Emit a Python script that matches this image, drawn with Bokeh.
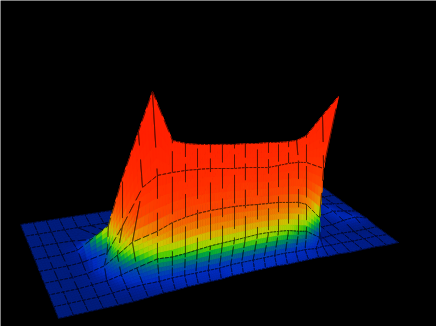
import numpy as np
from bokeh.embed import file_html
from bokeh.models import ColumnDataSource, Range1d
from bokeh.plotting import figure
from bokeh.resources import INLINE

# camera: ground corners of the sheet (front-left, front-right, back-right, back-left)
FL = (58, 318); FR = (398, 242); BR = (312, 179); BL = (20, 224)
N_ROWS = 8
# position of each mesh column along the front edge, 0..1
col_pos = [(x - 58) / 340 for x in [58, 73, 88, 103, 118, 133, 148, 163, 175, 187, 198, 210, 221, 232, 243,
                                    254, 265, 276, 287, 298, 308, 318, 328, 338, 350, 362, 374, 386, 398]]

# surface height at every node, front row first
z_r0 = [0, 0, 0, 0, 0, 0, 1, 2, 2, 3, 3, 3, 3, 4, 4, 4, 4, 4, 3, 3, 3, 3, 2, 2, 1, 1, 1, 0, 0]
z_r1 = [0, 0, 0, 0, 1, 2, 3, 3, 4, 4, 4, 4, 4, 5, 5, 5, 5, 5, 5, 4, 4, 3, 3, 2, 2, 1, 1, 1, 0]
z_r2 = [0, 0, 0, 1, 2, 5, 9, 15, 14.5, 15.5, 17, 18.5, 19.2, 19.8, 20.3, 21.2, 20.9, 19.8, 18.5, 15.5, 13.5, 5.3, 2.3, 1, 1, 1, 0, 0, 0]
z_r3 = [0, 0, 0, 1, 6, 14, 24, 32, 38.5, 41.4, 43.2, 43.9, 43.9, 43.8, 42.7, 41.6, 40.5, 39.5, 37.4, 35.4, 31.4, 16.5, 13.6, 1, 1, 1, 3, 4, 1]
z_r4 = [0, 0, 0, 1, 8, 32, 68, 77.3, 78.1, 78, 77.1, 75.9, 74, 72, 71, 69.1, 67.1, 67.2, 67.2, 66.4, 64.5, 56.7, 54.9, 1, 1, 2, 4, 2, 0]
z_r5 = [0, 0, 0, 2, 24, 69.7, 113.3, 150.75, 99.7, 94.8, 92, 89.9, 88.2, 86.3, 85.4, 83.6, 82.8, 81, 80, 79.4, 82.6, 100.9, 118.25, 0, 1, 3, 3, 1, 0]
z_r6 = [0] * 29
z_r7 = [0] * 29
z_r8 = [0] * 29
z_rows = [z_r0, z_r1, z_r2, z_r3, z_r4, z_r5, z_r6, z_r7, z_r8]

# sideways drift of every node (the wall stands upright, so its nodes stray from the sheet's lines)
dx_r0 = [0] * 29
dx_r1 = [0, 0, 0, 0, 0, 0, 1, 2.5, 3.7, 4.2, 4.7, 5.2, 5.7, 6.2, 6.3, 6.8, 6.9, 6.7, 6.5, 6.3, 5.7, 6.9, 3.9, 2, 1, 0, 0, 0, 0]
dx_r2 = [0, 0, 0, 0, 0, 0, 1, 7.2, 10.6, 12, 13.4, 14.9, 16.3, 17.6, 18, 19.4, 19.8, 19.2, 18.6, 18, 16.3, 19.7, 11, 4, 1, 0, 0, 0, 0]
dx_r3 = [0, 0, 0, 0, 3.4, 2.2, 3, 13.8, 17.4, 19.1, 20.7, 22.3, 23.9, 25.5, 26, 27.6, 28.2, 27.8, 27.4, 27, 25.5, 29, 19.5, 5, 1, 0, 0, 0, 0]
dx_r4 = [0, 0, 0, 1, 12, 13.3, 19.4, 20.4, 24.2, 26.1, 27.9, 29.7, 31.5, 33.3, 34, 35.8, 36.6, 36.4, 36.2, 35.9, 34.6, 42.4, 33, 0, 0, 0, 0, 0, 0]
dx_r5 = [0, 0, 0, 2, 19, 19.4, 21.7, 22, 31, 33.1, 35.1, 37.1, 39.1, 41.1, 42, 44, 45, 45, 45, 43, 43.8, 50.7, 57.5, 0, 0, 0, 0, 0, 0]
dx_r6 = [0, 0, 0, 2, 22, 25, 25, 25, 25, 0, 0, 0, 0, 0, 0, 0, 0, 0, 0, 0, 0, 0, 0, 0, 0, 0, 0, 0, 0]
dx_r7 = [0] * 29
dx_r8 = [0] * 29
dx_rows = [dx_r0, dx_r1, dx_r2, dx_r3, dx_r4, dx_r5, dx_r6, dx_r7, dx_r8]

# colour ramp: height -> rgb
ramp_z = [0, 2, 4, 7, 10, 14, 17, 19, 24, 30, 44, 60, 80, 110]
ramp_r = [0, 0, 0, 0, 0, 0, 90, 150, 205, 235, 252, 255, 255, 255]
ramp_g = [28, 32, 45, 65, 100, 170, 210, 215, 200, 140, 72, 50, 40, 32]
ramp_b = [125, 150, 195, 180, 140, 60, 0, 0, 0, 0, 0, 0, 0, 0]

Z = np.array(z_rows, float)
DX = np.array(dx_rows, float)
T = np.array(col_pos)


def project(c, r):
    """Bilinear sheet position plus height/drift at fractional node (c, r)."""
    c0, r0 = min(int(c), len(T) - 2), min(int(r), N_ROWS - 1)
    a, b = c - c0, r - r0
    def lerp(M):
        return ((1 - a) * (1 - b) * M[r0, c0] + a * (1 - b) * M[r0, c0 + 1]
                + (1 - a) * b * M[r0 + 1, c0] + a * b * M[r0 + 1, c0 + 1])
    t = T[c0] * (1 - a) + T[c0 + 1] * a
    v = r / N_ROWS
    gx = (1 - v) * ((1 - t) * FL[0] + t * FR[0]) + v * ((1 - t) * BL[0] + t * BR[0])
    gy = (1 - v) * ((1 - t) * FL[1] + t * FR[1]) + v * ((1 - t) * BL[1] + t * BR[1])
    z = lerp(Z)
    return gx + lerp(DX), gy - z, z


def colour(z):
    return "#%02x%02x%02x" % (int(np.interp(z, ramp_z, ramp_r)), int(np.interp(z, ramp_z, ramp_g)),
                              int(np.interp(z, ramp_z, ramp_b)))


SUB = 5
DASH = 12
xs, ys, fills, fill_alpha, lines, line_alpha, widths = [], [], [], [], [], [], []


def add_run(pts):
    xs.append([p[0] for p in pts]); ys.append([p[1] for p in pts])
    fills.append("#000000"); fill_alpha.append(0.0); lines.append("#000000"); line_alpha.append(0.45); widths.append(0.8)


def add_edge(c0, r0, c1, r1):
    """Mesh line drawn broken, as the reference's lines are where they fight with the surface."""
    vertical = c0 == c1
    on = []
    for k in range(DASH):
        if vertical and r0 >= 2 and r0 <= 4:
            keep = (k + c0 * 5 + r0 * 3) % 12 not in (0, 1, 2)
        elif vertical:
            keep = (k + c0 * 3) % 6 != 0
        else:
            keep = (k + r0) % 4 != 3
        if keep:
            on += [project(c0 + (c1 - c0) * k / DASH, r0 + (r1 - r0) * k / DASH),
                   project(c0 + (c1 - c0) * (k + 1) / DASH, r0 + (r1 - r0) * (k + 1) / DASH)]
        elif on:
            add_run(on); on = []
    if on:
        add_run(on)


cells = [(r, c) for r in range(N_ROWS) for c in range(len(T) - 1)]
cells.sort(key=lambda rc: (-rc[0], -abs(rc[1] - 14)))
for r, c in cells:
    for j in range(SUB - 1, -1, -1):
        for i in range(SUB):
            corners = [(c + i / SUB, r + j / SUB), (c + (i + 1) / SUB, r + j / SUB),
                       (c + (i + 1) / SUB, r + (j + 1) / SUB), (c + i / SUB, r + (j + 1) / SUB)]
            pts = [project(*q) for q in corners]
            col = colour(sum(p[2] for p in pts) / 4)
            xs.append([p[0] for p in pts]); ys.append([p[1] for p in pts])
            fills.append(col); fill_alpha.append(1.0); lines.append(col); line_alpha.append(1.0); widths.append(0.7)
    add_edge(c, r, c + 1, r)
    add_edge(c, r, c, r + 1)
    add_edge(c + 1, r, c + 1, r + 1)
    add_edge(c, r + 1, c + 1, r + 1)

src = ColumnDataSource(dict(xs=xs, ys=ys, fill=fills, fa=fill_alpha, line=lines, la=line_alpha, w=widths))

p = figure(width=436, height=326, output_backend="svg", toolbar_location=None,
           x_range=Range1d(0, 436), y_range=Range1d(326, 0),
           x_axis_location=None, y_axis_location=None, min_border=0,
           background_fill_color="#000000", border_fill_color="#000000", outline_line_color=None)
p.grid.visible = False
p.patches("xs", "ys", source=src, fill_color="fill", fill_alpha="fa", line_color="line", line_alpha="la", line_width="w")

open("out.html", "w").write(file_html(p, INLINE))
